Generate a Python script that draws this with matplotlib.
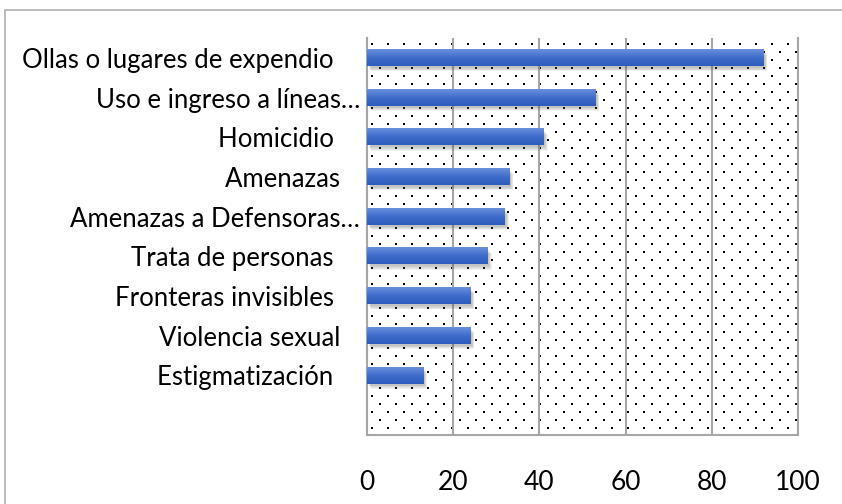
import numpy as np
import matplotlib
matplotlib.use('Agg')
from matplotlib import pyplot as plt
from matplotlib.patches import Rectangle
from matplotlib.colors import LinearSegmentedColormap
import matplotlib.transforms as mtransforms

categories = ['Ollas o lugares de expendio    ', 'Uso e ingreso a líneas…', 'Homicidio    ',
              'Amenazas   ', 'Amenazas a Defensoras…', 'Trata de personas    ',
              'Fronteras invisibles    ', 'Violencia sexual   ', 'Estigmatización    ']
values = [92, 53, 41, 33, 32, 28, 24, 24, 13]
xticks = [0, 20, 40, 60, 80, 100]

plt.rcParams['font.family'] = ['Lato', 'DejaVu Sans']

fig = plt.figure(figsize=(8.42, 5.04), dpi=100)
fig.patches.append(Rectangle((5 / 842, -0.1), 1.2, 1 - 10 / 504 + 0.1, transform=fig.transFigure,
                             fill=False, edgecolor='#b0b0b0', linewidth=1.2))
ax = fig.add_axes([367 / 842, 69 / 504, 431 / 842, 397 / 504])

# dotted background
nx, ny = 28, 50
dots_x, dots_y = [], []
for r in range(ny):
    off = 8 if r % 2 else 0
    for c in range(nx):
        dots_x.append((5 + off + 16 * c) / 431)
        dots_y.append(1 - (6 + 8 * r) / 397)
ax.scatter(dots_x, dots_y, s=2.2, marker='s', color='black', linewidths=0,
           transform=ax.transAxes, zorder=0, clip_on=True)

cmap = LinearSegmentedColormap.from_list('bar', ['#6a90dc', '#3f6dcb', '#2c5cbd'])
grad = np.linspace(0, 1, 64).reshape(-1, 1)
h = 0.41
y = np.arange(len(categories))
for yi, v in zip(y, values):
    # soft shadow
    for k in range(5):
        sh = mtransforms.offset_copy(ax.transData, fig=fig, x=1.5 + k * 0.6, y=-(2 + k * 0.8), units='dots')
        ax.add_patch(Rectangle((0, yi - h / 2), v, h, transform=sh, facecolor='#505050',
                               alpha=0.08, linewidth=0, zorder=2))
    ax.imshow(grad, extent=(0, v, yi + h / 2, yi - h / 2), aspect='auto', cmap=cmap,
              zorder=3, interpolation='bilinear')

ax.set_xlim(0, 100)
ax.set_ylim(9.5, -0.5)
ax.set_xticks(xticks)
ax.set_xticklabels([str(t) for t in xticks])
ax.set_yticks(y)
ax.set_yticklabels(categories)
ax.tick_params(axis='x', length=0, labelsize=19, pad=25, colors='black')
ax.tick_params(axis='y', length=0, labelsize=18.5, pad=5, colors='black')
ax.grid(axis='x', color='#a6a6a6', linewidth=1.5, zorder=1)
ax.set_axisbelow(True)
for s in ['left', 'bottom', 'right']:
    ax.spines[s].set_color('#a6a6a6')
    ax.spines[s].set_linewidth(1.5)
ax.spines['top'].set_visible(False)

fig.savefig('out.png', dpi=100)
